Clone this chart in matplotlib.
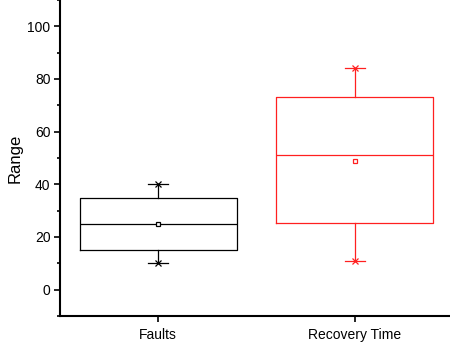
import matplotlib.pyplot as plt
from matplotlib.ticker import MultipleLocator

plt.rcParams['font.family'] = ['Liberation Sans', 'DejaVu Sans']

# box statistics
labels = ["Faults", "Recovery Time"]
q1 = [15, 25.5]
med = [25, 51]
q3 = [35, 73]
whislo = [10, 11]
whishi = [40, 84]
means = [24.8, 49]
colors = ["#000000", "#ff2020"]

fig = plt.figure(figsize=(4.5, 3.44), dpi=100)
ax = fig.add_axes([60/450, 28/344, 393/450, 316/344])

stats = []
for i in range(len(labels)):
    stats.append(dict(label=labels[i], q1=q1[i], med=med[i], q3=q3[i],
                      whislo=whislo[i], whishi=whishi[i], mean=means[i], fliers=[]))

for i, s in enumerate(stats):
    c = colors[i]
    ax.bxp([s], positions=[i + 1], widths=0.8, capwidths=0.1, showmeans=True,
           boxprops=dict(color=c, linewidth=0.9),
           medianprops=dict(color=c, linewidth=0.9),
           whiskerprops=dict(color=c, linewidth=0.9),
           capprops=dict(color=c, linewidth=0.9),
           meanprops=dict(marker="s", markerfacecolor="white", markeredgecolor=c,
                          markersize=3.5, markeredgewidth=0.9))
    ax.plot([i + 1, i + 1], [whislo[i], whishi[i]], linestyle="none", marker="x",
            color=c, markersize=4.5, markeredgewidth=0.9)

ax.set_xlim(0.5, 2.5)
ax.set_ylim(-10, 110)
ax.set_xticks([1, 2])
ax.set_xticklabels(labels, fontsize=10)
ax.yaxis.set_major_locator(MultipleLocator(20))
ax.yaxis.set_minor_locator(MultipleLocator(10))
ax.set_yticks([0, 20, 40, 60, 80, 100])
ax.tick_params(axis="both", which="major", direction="out", length=4.3, width=1.2,
               labelsize=10, pad=2.5)
ax.tick_params(axis="x", which="major", pad=4)
ax.tick_params(axis="y", which="minor", direction="out", length=2.5, width=1.2)
ax.tick_params(axis="x", which="minor", bottom=False)
ax.set_ylabel("Range", fontsize=12)
ax.yaxis.set_label_coords(-0.095, 0.5)

ax.spines["top"].set_visible(False)
ax.spines["right"].set_visible(False)
ax.spines["left"].set_linewidth(1.5)
ax.spines["bottom"].set_linewidth(1.5)

plt.savefig("out.png", dpi=100)
